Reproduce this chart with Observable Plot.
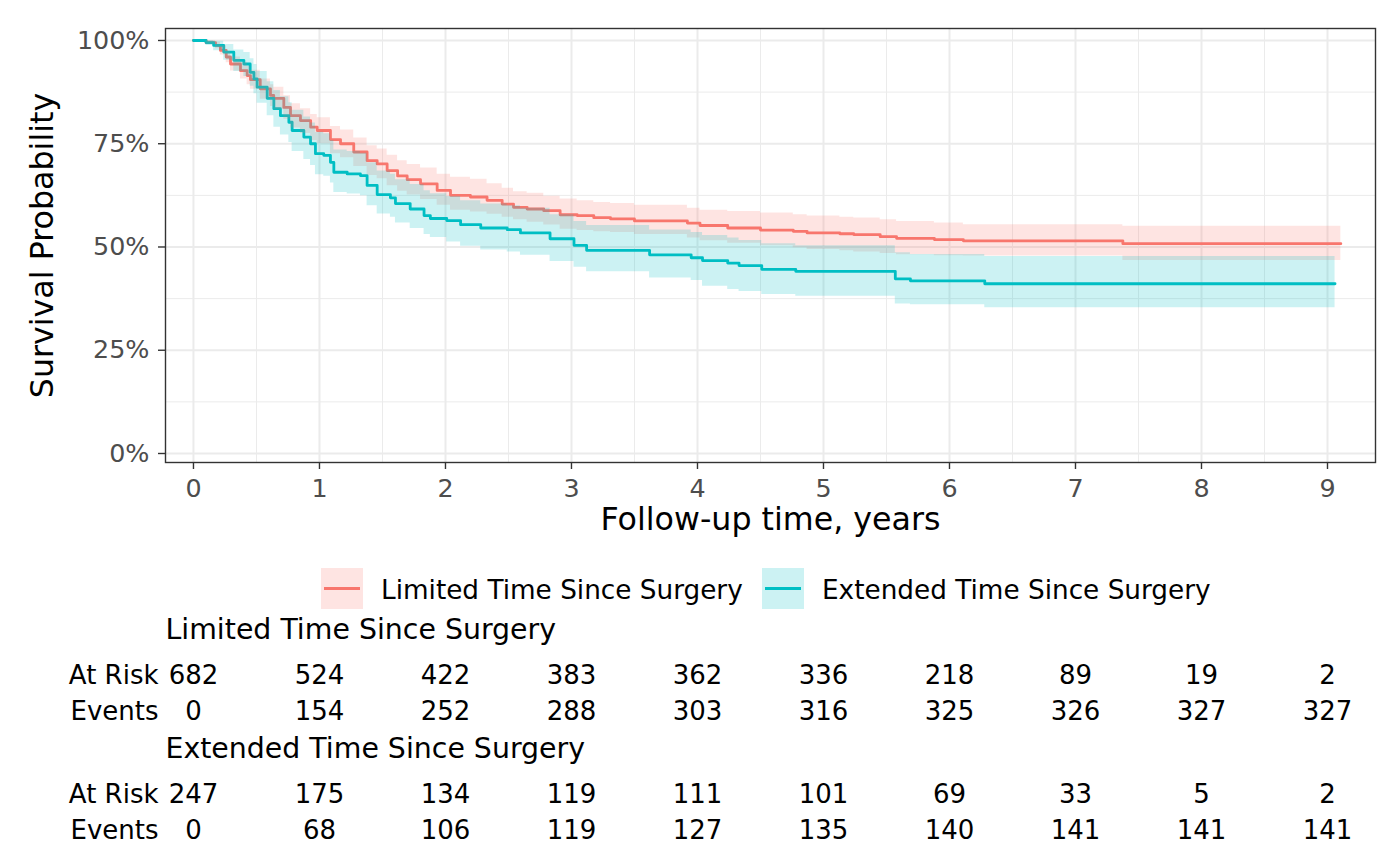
<!DOCTYPE html>
<html><head><meta charset="utf-8">
<script src="https://cdn.jsdelivr.net/npm/d3@7"></script>
<script src="https://cdn.jsdelivr.net/npm/@observablehq/plot@0.6"></script>
<style>
body{margin:0;background:#fff;font-family:"DejaVu Sans";}
#wrap{position:relative;width:1400px;height:865px;overflow:hidden;background:#fff;}
#wrap svg{position:absolute;left:0;}
.key{position:absolute;top:568px;width:42px;height:41px;}
.key i{position:absolute;left:3px;right:3px;top:19px;height:3px;}
.lab{position:absolute;top:570px;font-size:26.3px;line-height:41px;white-space:nowrap;color:#000;}
</style></head><body><div id="wrap">
<div class="key" style="left:321px;background:rgba(248,118,109,0.2)"><i style="background:#F8766D"></i></div>
<div class="lab" style="left:381px">Limited Time Since Surgery</div>
<div class="key" style="left:762px;background:rgba(0,191,196,0.2)"><i style="background:#00BFC4"></i></div>
<div class="lab" style="left:822px">Extended Time Since Surgery</div>
</div>
<script>
// Groups
const groups = ["Limited Time Since Surgery", "Extended Time Since Surgery"];
const colors = ["#F8766D", "#00BFC4"];

// Limited Time Since Surgery: KM step curve and 95% CI
const limitedTime  = [0, 0.10, 0.175, 0.214, 0.26, 0.294, 0.373, 0.426, 0.452, 0.53, 0.611, 0.637, 0.717, 0.77, 0.849, 0.93, 0.982, 1.087, 1.167, 1.272, 1.378, 1.458, 1.537, 1.62, 1.696, 1.802, 1.934, 2.04, 2.198, 2.33, 2.45, 2.54, 2.648, 2.78, 2.91, 3.045, 3.177, 3.31, 3.5, 3.92, 4.02, 4.24, 4.5, 4.76, 4.87, 5.13, 5.24, 5.45, 5.58, 5.88, 6.11, 7.376, 9.106];
const limitedSurv  = [1, 0.995, 0.988, 0.976, 0.96, 0.943, 0.927, 0.915, 0.905, 0.883, 0.867, 0.860, 0.838, 0.818, 0.806, 0.790, 0.782, 0.760, 0.750, 0.730, 0.709, 0.701, 0.685, 0.672, 0.663, 0.653, 0.637, 0.625, 0.621, 0.613, 0.604, 0.596, 0.592, 0.588, 0.578, 0.576, 0.571, 0.568, 0.563, 0.558, 0.552, 0.546, 0.541, 0.538, 0.534, 0.532, 0.530, 0.525, 0.521, 0.518, 0.515, 0.508, 0.508];
const limitedLower = [1, 0.99, 0.980, 0.965, 0.946, 0.926, 0.907, 0.893, 0.882, 0.858, 0.840, 0.832, 0.809, 0.788, 0.775, 0.758, 0.750, 0.726, 0.716, 0.695, 0.673, 0.665, 0.648, 0.635, 0.626, 0.615, 0.601, 0.589, 0.585, 0.579, 0.572, 0.566, 0.560, 0.553, 0.543, 0.540, 0.537, 0.535, 0.530, 0.522, 0.515, 0.509, 0.503, 0.498, 0.494, 0.491, 0.488, 0.484, 0.481, 0.479, 0.478, 0.467, 0.467];
const limitedUpper = [1, 1.0, 0.996, 0.987, 0.974, 0.960, 0.947, 0.937, 0.928, 0.907, 0.893, 0.887, 0.866, 0.847, 0.835, 0.821, 0.813, 0.792, 0.783, 0.764, 0.745, 0.737, 0.722, 0.709, 0.700, 0.691, 0.676, 0.669, 0.664, 0.653, 0.642, 0.634, 0.630, 0.623, 0.616, 0.612, 0.608, 0.605, 0.601, 0.594, 0.589, 0.586, 0.582, 0.578, 0.575, 0.572, 0.570, 0.566, 0.562, 0.558, 0.554, 0.550, 0.550];

// Extended Time Since Surgery
const extendedTime  = [0, 0.10, 0.16, 0.24, 0.32, 0.40, 0.45, 0.48, 0.505, 0.585, 0.638, 0.69, 0.757, 0.783, 0.876, 0.929, 0.968, 1.034, 1.087, 1.114, 1.22, 1.325, 1.378, 1.458, 1.563, 1.603, 1.72, 1.83, 1.88, 2.01, 2.12, 2.28, 2.49, 2.595, 2.83, 3.02, 3.12, 3.62, 3.95, 4.04, 4.24, 4.33, 4.51, 4.78, 5.57, 5.69, 6.28, 9.06];
const extendedSurv  = [1, 0.995, 0.988, 0.972, 0.952, 0.943, 0.923, 0.907, 0.887, 0.860, 0.835, 0.818, 0.802, 0.782, 0.766, 0.750, 0.726, 0.722, 0.705, 0.681, 0.677, 0.673, 0.649, 0.627, 0.619, 0.605, 0.592, 0.576, 0.569, 0.564, 0.554, 0.546, 0.542, 0.534, 0.520, 0.504, 0.492, 0.481, 0.474, 0.467, 0.461, 0.455, 0.446, 0.441, 0.423, 0.418, 0.411, 0.411];
const extendedLower = [1, 0.988, 0.975, 0.952, 0.925, 0.913, 0.889, 0.871, 0.848, 0.818, 0.790, 0.771, 0.753, 0.731, 0.712, 0.697, 0.675, 0.671, 0.655, 0.632, 0.628, 0.624, 0.600, 0.580, 0.572, 0.558, 0.545, 0.530, 0.523, 0.512, 0.502, 0.493, 0.488, 0.480, 0.465, 0.451, 0.440, 0.425, 0.419, 0.405, 0.397, 0.392, 0.385, 0.381, 0.362, 0.360, 0.353, 0.353];
const extendedUpper = [1, 1.0, 0.998, 0.990, 0.977, 0.971, 0.956, 0.942, 0.925, 0.900, 0.879, 0.864, 0.849, 0.831, 0.815, 0.800, 0.778, 0.774, 0.758, 0.735, 0.731, 0.727, 0.704, 0.684, 0.676, 0.663, 0.651, 0.636, 0.629, 0.622, 0.612, 0.604, 0.600, 0.594, 0.578, 0.562, 0.552, 0.541, 0.535, 0.528, 0.522, 0.516, 0.508, 0.503, 0.486, 0.482, 0.477, 0.477];

// Risk table
const tableTimes = [0, 1, 2, 3, 4, 5, 6, 7, 8, 9];
const rowNames = ["At Risk", "Events"];
const limitedAtRisk  = [682, 524, 422, 383, 362, 336, 218, 89, 19, 2];
const limitedEvents  = [0, 154, 252, 288, 303, 316, 325, 326, 327, 327];
const extendedAtRisk = [247, 175, 134, 119, 111, 101, 69, 33, 5, 2];
const extendedEvents = [0, 68, 106, 119, 127, 135, 140, 141, 141, 141];

// Axis ticks
const xMajor = [0, 1, 2, 3, 4, 5, 6, 7, 8, 9];
const xMinor = [0.5, 1.5, 2.5, 3.5, 4.5, 5.5, 6.5, 7.5, 8.5];
const yMajor = [0, 0.25, 0.5, 0.75, 1];
const yMinor = [0.125, 0.375, 0.625, 0.875];

const toRows = (t, s, lo, hi) => t.map((d, i) => ({time: d, surv: s[i], lower: lo[i], upper: hi[i]}));
const limited = toRows(limitedTime, limitedSurv, limitedLower, limitedUpper);
const extended = toRows(extendedTime, extendedSurv, extendedLower, extendedUpper);

const xDomain = [-0.222, 9.381];
const font = {fontFamily: "DejaVu Sans", background: "transparent", overflow: "visible"};

const main = Plot.plot({
  width: 1400, height: 548,
  marginLeft: 165, marginRight: 25, marginTop: 28, marginBottom: 86,
  style: font,
  x: {domain: xDomain},
  y: {domain: [-0.0218, 1.029]},
  marks: [
    Plot.gridX(xMinor, {stroke: "#ebebeb", strokeOpacity: 1, strokeWidth: 1}),
    Plot.gridY(yMinor, {stroke: "#ebebeb", strokeOpacity: 1, strokeWidth: 1}),
    Plot.gridX(xMajor, {stroke: "#ebebeb", strokeOpacity: 1, strokeWidth: 2}),
    Plot.gridY(yMajor, {stroke: "#ebebeb", strokeOpacity: 1, strokeWidth: 2}),
    Plot.lineY(limited, {x: "time", y: "surv", curve: "step-after", stroke: colors[0], strokeWidth: 2.8}),
    Plot.lineY(extended, {x: "time", y: "surv", curve: "step-after", stroke: colors[1], strokeWidth: 2.8}),
    Plot.areaY(limited, {x: "time", y1: "lower", y2: "upper", curve: "step-after", fill: colors[0], fillOpacity: 0.2}),
    Plot.areaY(extended, {x: "time", y1: "lower", y2: "upper", curve: "step-after", fill: colors[1], fillOpacity: 0.2}),
    Plot.frame({stroke: "#333333", strokeWidth: 1.4}),
    Plot.axisX(xMajor, {tickSize: 7, tickPadding: 9, fontSize: 25.4, fill: "#4d4d4d", stroke: "#333333", strokeWidth: 1.4, label: null, tickFormat: d => String(d)}),
    Plot.axisY(yMajor, {tickSize: 7, tickPadding: 9, fontSize: 25.4, fill: "#4d4d4d", stroke: "#333333", strokeWidth: 1.4, label: null, tickFormat: d => Math.round(d * 100) + "%"}),
    Plot.text(["Follow-up time, years"], {text: d => d, frameAnchor: "bottom", lineAnchor: "middle", textAnchor: "middle", dy: 57, fontSize: 31.7, fill: "#000"}),
    Plot.text(["Survival Probability"], {text: d => d, frameAnchor: "left", lineAnchor: "middle", textAnchor: "middle", dx: -123, rotate: -90, fontSize: 31.7, fill: "#000"})
  ]
});

function riskTable(title, atRisk, events) {
  const rows = tableTimes.flatMap((t, i) => [
    {time: t, row: rowNames[0], value: atRisk[i]},
    {time: t, row: rowNames[1], value: events[i]}
  ]);
  return Plot.plot({
    width: 1400, height: 119,
    marginLeft: 165, marginRight: 25, marginTop: 0, marginBottom: 0,
    style: font,
    x: {domain: xDomain, axis: null},
    y: {type: "point", domain: rowNames, range: [69, 105], padding: 0},
    marks: [
      Plot.text([title], {text: d => d, frameAnchor: "top-left", lineAnchor: "middle", textAnchor: "start", dy: 23, fontSize: 28.4, fill: "#000"}),
      Plot.text(rows, {x: "time", y: "row", text: "value", fontSize: 26, fill: "#000"}),
      Plot.axisY({tickSize: 0, tickPadding: 7, fontSize: 26, fill: "#000", label: null})
    ]
  });
}

const wrap = document.getElementById("wrap");
main.style.top = "0px";
wrap.appendChild(main);
const t1 = riskTable(groups[0], limitedAtRisk, limitedEvents);
t1.style.top = "606px";
wrap.appendChild(t1);
const t2 = riskTable(groups[1], extendedAtRisk, extendedEvents);
t2.style.top = "725px";
wrap.appendChild(t2);
</script>
</body></html>
